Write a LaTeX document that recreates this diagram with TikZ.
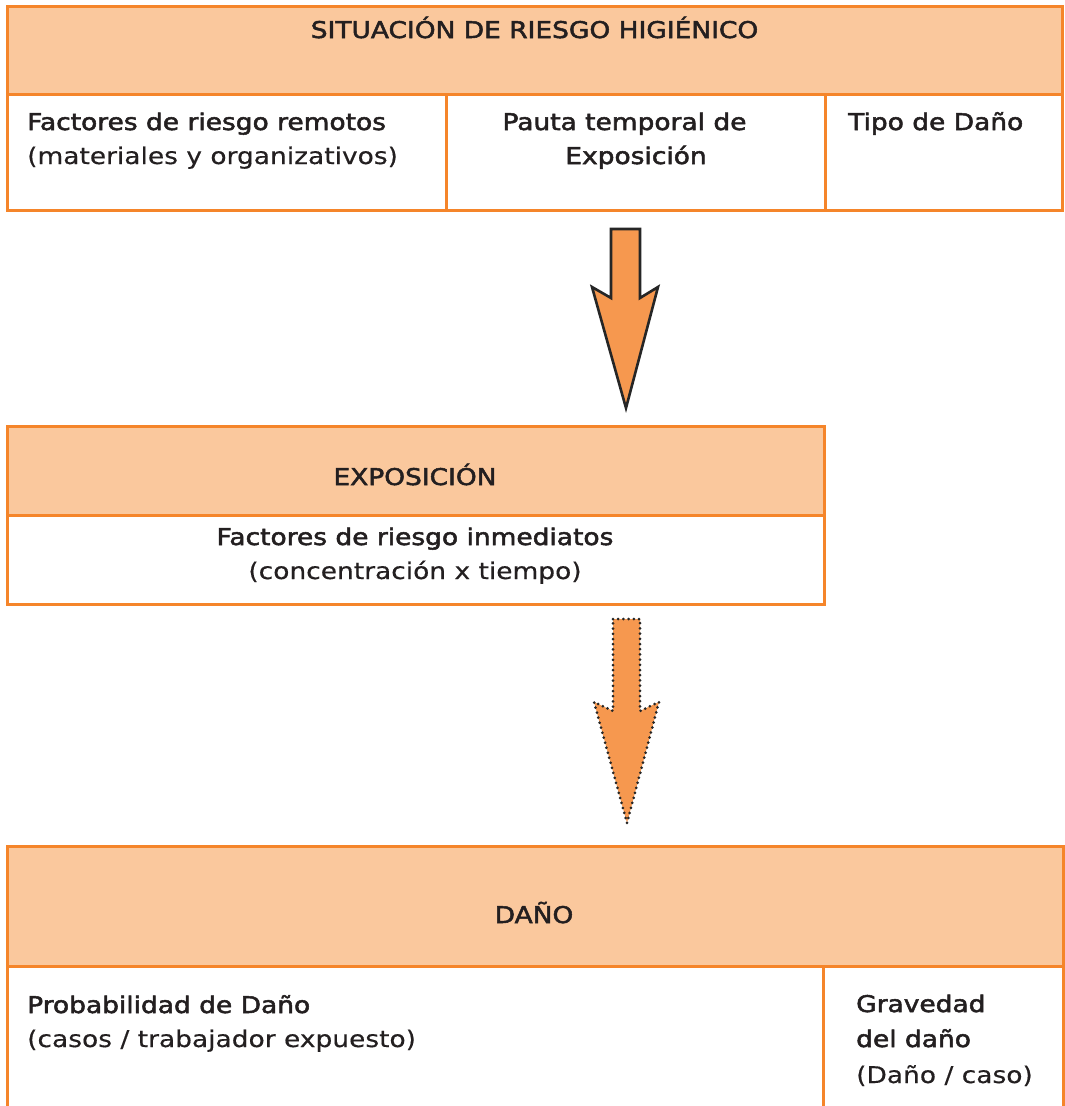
\documentclass[tikz,border=0pt]{standalone}
\usepackage{fontspec}
\setmainfont[FakeStretch=1.15,FakeBold=0.4]{DejaVu Sans}
\newfontfamily\seminegra[FakeStretch=1.15,FakeBold=2.2]{DejaVu Sans}
\usetikzlibrary{positioning}

\definecolor{borde}{RGB}{245,133,42}
\definecolor{cabecera}{RGB}{250,200,157}
\definecolor{flecha}{RGB}{246,152,79}
\definecolor{letra}{RGB}{35,31,32}

\begin{document}
\begin{tikzpicture}[x=1pt, y=-1pt, line join=miter,
  marco/.style={draw=borde, line width=3pt},
  flechabloque/.style={fill=flecha, draw=black!85, line width=2.6pt},
  flechapunteada/.style={fill=flecha, draw=black!85, line width=3pt, line cap=round, dash pattern=on 0pt off 5.2pt},
  negrita/.style={font=\seminegra\fontsize{23}{33}\selectfont, text=letra, inner sep=0pt},
  normal/.style={font=\fontsize{23}{33}\selectfont, text=letra, inner sep=0pt}]
  \useasboundingbox (0,0) rectangle (1065,1106);

  % --- Caja superior: situacion de riesgo ---
  \coordinate (S1) at (7,6);
  \coordinate (S2) at (1062,94);
  \coordinate (S3) at (1062,210);
  \fill[cabecera] (S1) rectangle (S2);
  \draw[marco] (S1) rectangle (S3);
  \draw[marco] (S1 |- S2) -- (S2);
  \draw[marco] (446,94) -- (446,210);
  \draw[marco] (825,94) -- (825,212);

  % --- Caja intermedia: exposicion ---
  \coordinate (E1) at (7,426);
  \coordinate (E2) at (824,515);
  \coordinate (E3) at (824,604);
  \fill[cabecera] (E1) rectangle (E2);
  \draw[marco] (E1) rectangle (E3);
  \draw[marco] (E1 |- E2) -- (E2);

  % --- Caja inferior: dano (abierta por abajo) ---
  \coordinate (D1) at (7,846);
  \coordinate (D2) at (1063,966);
  \coordinate (D3) at (1063,1106);
  \fill[cabecera] (D1) rectangle (D2);
  \draw[marco] (D1 |- D3) -- (D1) -- (D1 -| D2) -- (D3);
  \draw[marco] (D1 |- D2) -- (D2);
  \draw[marco] (823,966) -- (823,1106);

  % --- Flechas ---
  \draw[flechabloque] (611,229) -- (640,229) -- (640,298) -- (658,287) -- (626,408)
    -- (592,287) -- (611,298) -- cycle;
  \draw[flechapunteada] (613,619) -- (640,619) -- (640,711) -- (659,702) -- (627,823)
    -- (594,702) -- (613,711) -- cycle;

  % --- Textos ---
  \node[negrita, anchor=base] (situacion) at (534.5,38) {SITUACIÓN DE RIESGO HIGIÉNICO};
  \node[negrita, anchor=base west] (remotos) at (27,130) {Factores de riesgo remotos};
  \node[normal, anchor=base west] (materiales) at (27,164) {(materiales y organizativos)};
  \node[negrita, anchor=base] (pauta) at (624.5,130) {Pauta temporal de};
  \node[negrita, anchor=base] (pautab) at (636,164) {Exposición};
  \node[negrita, anchor=base west] (tipo) at (848,130) {Tipo de Daño};

  \node[negrita, anchor=base] (exposicion) at (415,485) {EXPOSICIÓN};
  \node[negrita, anchor=base] (inmediatos) at (415,545) {Factores de riesgo inmediatos};
  \node[normal, anchor=base] (concentracion) at (415,579) {(concentración x tiempo)};

  \node[negrita, anchor=base] (dano) at (534,923) {DAÑO};
  \node[negrita, anchor=base west] (probabilidad) at (27,1013) {Probabilidad de Daño};
  \node[normal, anchor=base west] (casos) at (27,1047) {(casos / trabajador expuesto)};
  \node[negrita, anchor=base west] (gravedad) at (856,1012) {Gravedad};
  \node[negrita, anchor=base west] (gravedadb) at (856,1047) {del daño};
  \node[normal, anchor=base west] (caso) at (856,1083) {(Daño / caso)};
\end{tikzpicture}
\end{document}
